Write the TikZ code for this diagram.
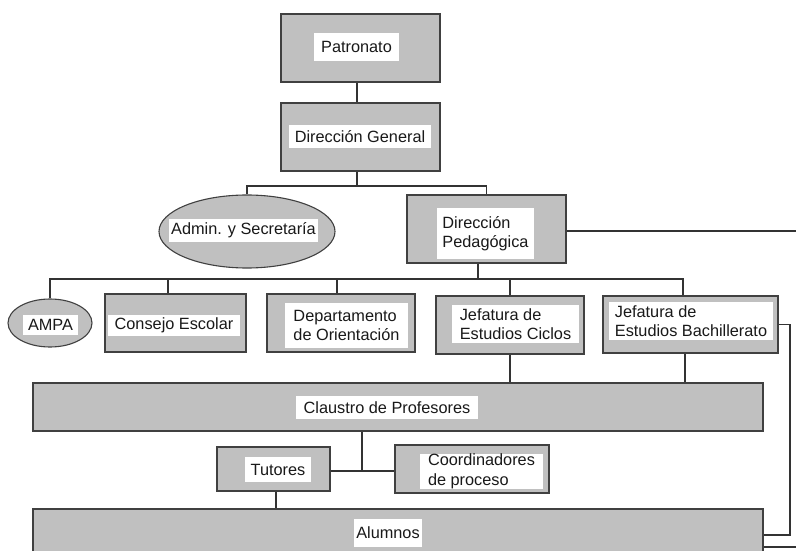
\documentclass[tikz,border=0pt]{standalone}
\usepackage{fontspec}
\setmainfont{Liberation Sans}
\usetikzlibrary{shapes.geometric}
\definecolor{boxgray}{HTML}{C0C0C0}
\definecolor{edgegray}{HTML}{404040}
\definecolor{linegray}{HTML}{333333}
\begin{document}
\begin{tikzpicture}[x=1pt,y=-1pt,
  box/.style={draw=edgegray, line width=1.5pt, fill=boxgray, rectangle, inner sep=0pt},
  oval/.style={draw=edgegray, line width=1.1pt, fill=boxgray, ellipse, inner sep=0pt},
  lab/.style={fill=white, inner sep=0pt, align=left, font=\fontsize{16.3}{19.5}\selectfont, text=black!90},
  conn/.style={draw=linegray, line width=1.1pt}]
\useasboundingbox (0,0) rectangle (796,551);
\clip (0,0) rectangle (796,551);

% helper x positions and buses
\coordinate (xa) at (357,0);
\coordinate (xcons) at (168,0);
\coordinate (xdep) at (337,0);
\coordinate (xjb) at (683,0);
\coordinate (xjcb) at (510,0);
\coordinate (xjbb) at (685,0);
\coordinate (xtut) at (276,0);
\coordinate (b1) at (357,186);
\coordinate (b2) at (478,279);
\coordinate (b3) at (362,471);
\coordinate (r1) at (790,535);
\coordinate (r2) at (800,547);
\coordinate (eR1) at (800,231);

% boxes
\node[box, minimum width=159pt, minimum height=68pt] (pat) at (360.5,48) {};
\node[box, minimum width=159pt, minimum height=68pt] (dg) at (360.5,137) {};
\node[oval, minimum width=176pt, minimum height=73pt] (adm) at (247,231.5) {};
\node[box, minimum width=159pt, minimum height=68pt] (dp) at (486.5,229) {};
\node[oval, minimum width=84pt, minimum height=48pt] (ampa) at (50,323) {};
\node[box, minimum width=141pt, minimum height=58pt] (cons) at (175.5,323) {};
\node[box, minimum width=148pt, minimum height=58pt] (dep) at (341,323) {};
\node[box, minimum width=148pt, minimum height=58pt] (jc) at (510,325) {};
\node[box, minimum width=175pt, minimum height=57pt] (jb) at (690.5,324.5) {};
\node[box, minimum width=730pt, minimum height=48pt] (cla) at (398,407) {};
\node[box, minimum width=113pt, minimum height=44pt] (tut) at (273.5,469) {};
\node[box, minimum width=154pt, minimum height=48pt] (coo) at (472,469) {};
\node[box, minimum width=730pt, minimum height=60pt] (alu) at (398,539) {};

% labels
\node[lab, minimum width=85pt, minimum height=28pt] (patL) at (356.5,47) {Patronato};
\node[lab, minimum width=142pt, minimum height=23pt] (dgL) at (360,136.5) {Dirección General};
\node[lab, minimum width=149pt, minimum height=23pt] (admL) at (243.5,230.5) {Admin. y Secretaría};
\node[lab, minimum width=97pt, minimum height=51pt] (dpL) at (485.5,233.5) {Dirección\\Pedagógica};
\node[lab, minimum width=55pt, minimum height=20pt] (ampaL) at (50.5,325) {AMPA};
\node[lab, minimum width=132pt, minimum height=21pt] (consL) at (174,325.5) {Consejo Escolar};
\node[lab, minimum width=123pt, minimum height=45pt] (depL) at (346.5,325.5) {Departamento\\de Orientación};
\node[lab, minimum width=127pt, minimum height=38pt] (jcL) at (515.5,324) {Jefatura de\\Estudios Ciclos};
\node[lab, minimum width=164pt, minimum height=38pt] (jbL) at (691,321) {Jefatura de\\Estudios Bachillerato};
\node[lab, minimum width=182pt, minimum height=23pt] (claL) at (387,407.5) {Claustro de Profesores};
\node[lab, minimum width=66pt, minimum height=25pt] (tutL) at (278,469.5) {Tutores};
\node[lab, minimum width=123pt, minimum height=35pt] (cooL) at (481.5,471.5) {Coordinadores\\de proceso};
\node[lab, minimum width=68pt, minimum height=28pt] (aluL) at (388,533) {Alumnos};

% connectors
\draw[conn] (pat.south -| xa) -- (dg.north -| xa);
\draw[conn] (dg.south -| b1) -- (b1);
\draw[conn] (adm.north) |- (b1) -| (dp.north);
\draw[conn] (dp.east |- eR1) -- (eR1);
\draw[conn] (dp.south -| b2) -- (b2);
\draw[conn] (ampa.north) |- (b2 -| xjb) -- (jb.north -| xjb);
\draw[conn] (b2 -| xcons) -- (cons.north -| xcons);
\draw[conn] (b2 -| xdep) -- (dep.north -| xdep);
\draw[conn] (b2 -| xjcb) -- (jc.north -| xjcb);
\draw[conn] (jb.east) -| (r1) -- (alu.east |- r1);
\draw[conn] (alu.east |- r2) -- (r2);
\draw[conn] (jc.south -| xjcb) -- (cla.north -| xjcb);
\draw[conn] (jb.south -| xjbb) -- (cla.north -| xjbb);
\draw[conn] (cla.south -| b3) -- (b3);
\draw[conn] (tut.east |- b3) -- (coo.west |- b3);
\draw[conn] (tut.south -| xtut) -- (alu.north -| xtut);
\end{tikzpicture}
\end{document}
